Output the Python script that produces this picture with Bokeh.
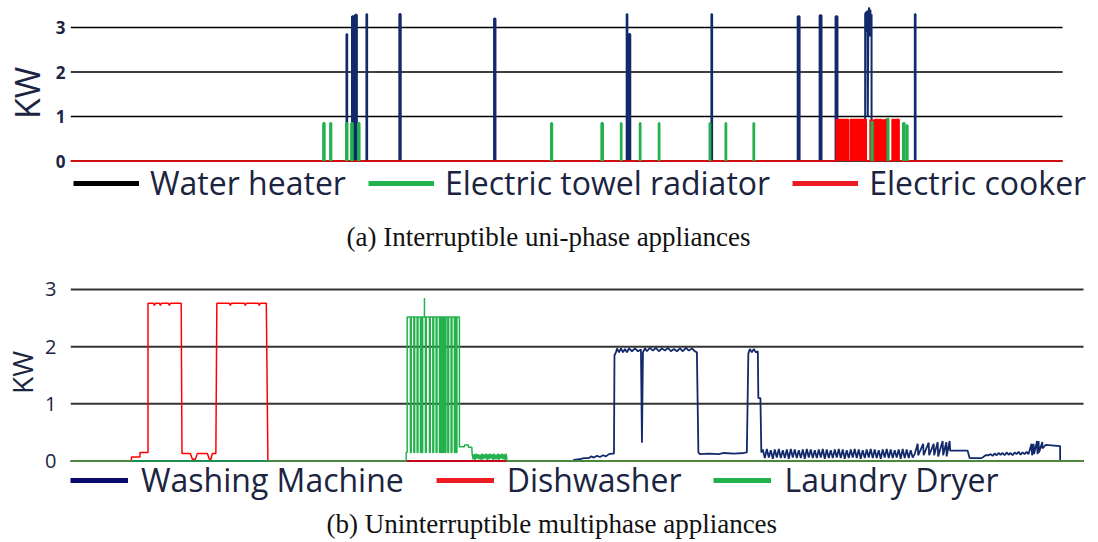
from math import pi
from bokeh.plotting import figure
from bokeh.models import Range1d, Legend, LegendItem, Label, FixedTicker
from bokeh.layouts import column, row
from bokeh.embed import file_html
from bokeh.resources import INLINE

NAN = float("nan")

# ---------------- data: panel (a), time in sample steps ----------------
A_T_START, A_T_END = 0, 995
y_ticks = [0, 1, 2, 3]

# water heater pulses (start, end, kW)
wh_start = [277, 282.5, 285.5, 297, 330, 425, 558, 560, 643, 729.5, 751.5, 767.5, 847]
wh_end = [277.3, 284, 287, 297.3, 331, 426, 558.3, 561.2, 643.3, 731, 753, 769, 847.3]
wh_kw = [2.85, 3.25, 3.28, 3.3, 3.3, 3.2, 3.3, 2.85, 3.3, 3.25, 3.27, 3.25, 3.3]
# burst of the water heater near the evening
wh_burst_t = [797, 797, 798, 798.6, 799.2, 799.6, 800.2, 801, 801.6, 802.2, 802.8, 803.4, 803.4]
wh_burst_kw = [0, 3.3, 3.35, 2.9, 3.38, 1.0, 3.3, 3.45, 2.8, 3.4, 2.9, 3.3, 0]

# electric towel radiator pulses
tr_start = [253.5, 260.5, 276.5, 281.5, 288.5, 482, 532.5, 552, 571, 590, 641, 657, 685, 803.5, 819.5, 835, 838.5]
tr_end = [254.8, 261.5, 277.5, 283, 289.8, 483, 534, 552.6, 571.6, 590.6, 641.6, 657.6, 685.6, 804.5, 820.3, 836.5, 839.5]
tr_kw = [0.85, 0.85, 0.85, 0.85, 0.85, 0.85, 0.85, 0.85, 0.85, 0.85, 0.85, 0.85, 0.85, 0.88, 0.95, 0.85, 0.8]

# electric cooker pulses
ck_start = [768, 782, 802, 806.5, 811, 814, 817, 824, 827]
ck_end = [780, 798, 805, 810, 813, 816, 820, 826, 831]
ck_kw = [0.93, 0.93, 0.92, 0.93, 0.93, 0.92, 0.93, 0.93, 0.93]

# ---------------- data: panel (b) ----------------
B_T_START, B_T_END = 1, 1015

wm_pre = [(1, 0), (504, 0), (505, 0.02), (510, 0.03), (515, 0.05), (520, 0.05), (522, 0.08), (525, 0.06),
          (528, 0.09), (531, 0.07), (534, 0.1), (537, 0.08), (540, 0.12), (543, 0.13), (545, 0.13),
          (545.5, 1.85), (547, 1.9), (548, 1.97), (550, 1.9), (552, 1.97), (554, 1.9), (556, 1.96),
          (558, 1.9), (560, 1.97), (563, 1.92), (566, 1.97), (569, 1.92), (572, 1.95), (573, 0.32),
          (574, 1.9), (576, 1.97), (578, 1.92), (581, 1.98), (584, 1.93), (587, 1.98), (590, 1.92),
          (593, 1.97), (596, 1.93), (599, 1.98), (602, 1.92), (605, 1.96), (608, 1.92), (611, 1.97),
          (614, 1.92), (617, 1.98), (620, 1.93), (623, 1.97), (626, 1.92), (628, 1.9), (629.5, 0.15),
          (631, 0.12), (640, 0.13), (650, 0.12), (655, 0.14), (665, 0.13), (675, 0.14), (678, 0.15),
          (679.5, 1.88), (681, 1.96), (683, 1.9), (685, 1.96), (687, 1.9), (689, 1.92), (689.5, 1.1),
          (691.6, 1.1), (692.5, 0.15)]
wm_fuzz_t = [694, 696, 698, 700, 702, 704, 706, 708, 710, 712, 714, 716, 718, 720, 722, 724, 726, 728, 730, 732,
             734, 736, 738, 740, 742, 744, 746, 748, 750, 752, 754, 756, 758, 760, 762, 764, 766, 768, 770, 772,
             774, 776, 778, 780, 782, 784, 786, 788, 790, 792, 794, 796, 798, 800, 802, 804, 806, 808, 810, 812,
             814, 816, 818, 820, 822, 824, 826, 828, 830, 832, 834, 836, 838, 840, 842, 844]
wm_fuzz_kw = [0.2, 0.05, 0.21, 0.06, 0.19, 0.04, 0.2, 0.06, 0.21, 0.05, 0.19, 0.05, 0.2, 0.04, 0.21, 0.06, 0.2, 0.05, 0.19, 0.05,
              0.2, 0.04, 0.21, 0.06, 0.2, 0.05, 0.19, 0.05, 0.2, 0.06, 0.21, 0.04, 0.2, 0.05, 0.19, 0.05, 0.2, 0.06, 0.21, 0.05,
              0.2, 0.04, 0.19, 0.05, 0.2, 0.06, 0.21, 0.05, 0.2, 0.04, 0.19, 0.05, 0.2, 0.06, 0.21, 0.05, 0.2, 0.05, 0.19, 0.04,
              0.2, 0.06, 0.21, 0.05, 0.2, 0.05, 0.19, 0.06, 0.2, 0.04, 0.21, 0.05, 0.2, 0.05, 0.19, 0.06]
wm_post = [(846, 0.12), (849, 0.3), (849.5, 0.1), (854.5, 0.3), (855, 0.1), (860, 0.32), (860.5, 0.1),
           (865, 0.3), (865.5, 0.1), (869, 0.33), (869.5, 0.08), (874, 0.35), (874.5, 0.1), (877.7, 0.33),
           (878, 0.08), (881, 0.35), (881.5, 0.18), (883, 0.18), (899, 0.18), (901, 0.05), (913, 0.05),
           (917, 0.1), (920, 0.1), (922, 0.12), (924, 0.09), (926, 0.13), (928, 0.1), (930, 0.14), (932, 0.11),
           (934, 0.14), (936, 0.1), (938, 0.15), (940, 0.11), (942, 0.14), (944, 0.1), (946, 0.15), (948, 0.12),
           (950, 0.16), (952, 0.11), (954, 0.15), (956, 0.12), (958, 0.16), (960, 0.12), (963, 0.3),
           (963.5, 0.1), (965, 0.3), (965.5, 0.12), (968.5, 0.35), (969, 0.12), (970, 0.35), (970.5, 0.15),
           (973.7, 0.33), (974, 0.22), (977, 0.28), (991.6, 0.26), (991.6, 0), (1015, 0)]

dw_points = [(1, 0), (62, 0), (62, 0.07), (70.5, 0.07), (70.5, 0.15), (78.6, 0.15), (78.6, 2.76), (84, 2.76),
             (85, 2.72), (86, 2.76), (90, 2.76), (91, 2.72), (92, 2.76), (99, 2.76), (100, 2.72), (101, 2.76),
             (111.8, 2.76), (112.6, 0.13), (121, 0.13), (123, 0.03), (126, 0.03), (128, 0.13), (138, 0.13),
             (140, 0.03), (141.5, 0.03), (143, 0.13), (146.5, 0.13), (147.5, 2.76), (160, 2.76), (161, 2.72),
             (162, 2.76), (175, 2.76), (176, 2.72), (177, 2.76), (189, 2.76), (190, 2.72), (191, 2.76),
             (197, 2.76), (198.6, 0), (1015, 0)]

ld_pre = [(1, 0), (337, 0), (337, 0.15), (338, 0.15)]
ld_on_start, ld_on_end, ld_top, ld_low = 338, 390.3, 2.52, 0.15
ld_dips = [341.3, 344.7, 348, 351.3, 352.7, 356.3, 360.3, 363.7, 367, 370.3, 372, 373.7, 376, 378.7, 382, 385.3, 387]
ld_spike_t, ld_spike_kw = 355.3, 2.85
ld_mid = [(390.3, 0.25), (395.3, 0.25), (395.3, 0.28), (399.3, 0.28), (399.3, 0.24), (402.7, 0.24)]
ld_fuzz_t = [403, 404, 405, 406, 407, 408, 409, 410, 411, 412, 413, 414, 415, 416, 417, 418, 419, 420,
             421, 422, 423, 424, 425, 426, 427, 428, 429, 430, 431, 432, 433, 434, 435, 436, 437, 438]
ld_fuzz_kw = [0.13, 0.03, 0.12, 0.02, 0.13, 0.04, 0.12, 0.03, 0.11, 0.02, 0.13, 0.03, 0.12, 0.04, 0.13, 0.02, 0.12, 0.03,
              0.13, 0.04, 0.12, 0.02, 0.13, 0.03, 0.11, 0.03, 0.13, 0.02, 0.12, 0.04, 0.13, 0.03, 0.12, 0.02, 0.13, 0.0]
ld_post = [(438.7, 0), (1015, 0)]

# ---------------- colours / fonts ----------------
NAVY = "#12296a"
GREEN = "#22b14c"
RED = "#ff0000"
TXT = "#1b2440"
FONT = "Open Sans"


def pulses_xs_ys(starts, ends, levels):
    xs, ys = [], []
    for s, e, l in zip(starts, ends, levels):
        xs.append([s, s, e, e])
        ys.append([0, l, l, 0])
    return xs, ys


def pulses_steps(starts, ends, levels, t0, t1):
    xs, ys = [t0], [0]
    for s, e, l in zip(starts, ends, levels):
        xs += [s, s, e, e]
        ys += [0, l, l, 0]
    xs.append(t1)
    ys.append(0)
    return xs, ys


def style(p, tick_size, tick_bold, standoff, t0, t1, grid_color, grid_w):
    p.yaxis.ticker = FixedTicker(ticks=y_ticks)
    p.yaxis.axis_line_color = None
    p.yaxis.major_tick_line_color = None
    p.yaxis.minor_tick_line_color = None
    p.yaxis.major_tick_in = 0
    p.yaxis.major_tick_out = 0
    p.yaxis.minor_tick_in = 0
    p.yaxis.minor_tick_out = 0
    p.yaxis.major_label_text_font = FONT
    p.yaxis.major_label_text_font_size = tick_size
    p.yaxis.major_label_text_font_style = "bold" if tick_bold else "normal"
    p.yaxis.major_label_text_color = TXT
    p.yaxis.major_label_standoff = standoff
    p.ygrid.visible = False
    p.xgrid.visible = False
    p.outline_line_color = None
    p.background_fill_color = "white"
    p.border_fill_color = "white"
    # horizontal grid lines at the y ticks, spanning the time axis
    p.segment(x0=[t0] * len(y_ticks), x1=[t1] * len(y_ticks), y0=y_ticks, y1=y_ticks,
              line_color=grid_color, line_width=grid_w)


def add_legend(p, items, glyph_w, standoff, spacing, loc):
    lg = Legend(items=items, orientation="horizontal", location=loc,
                label_text_font=FONT, label_text_font_size="32px", label_text_color=TXT,
                glyph_width=glyph_w, glyph_height=20, label_standoff=standoff, spacing=spacing,
                padding=2, margin=0, border_line_color=None, background_fill_alpha=0)
    p.add_layout(lg)


def kw_figure(w, h, x, y, size):
    f = figure(width=w, height=h, x_range=Range1d(0, 1), y_range=Range1d(0, 1),
               x_axis_location=None, y_axis_location=None, toolbar_location=None, output_backend="svg",
               min_border_left=0, min_border_right=0, min_border_top=0, min_border_bottom=0)
    f.xgrid.visible = False
    f.ygrid.visible = False
    f.outline_line_color = None
    f.add_layout(Label(x=x, y=y, x_units="screen", y_units="screen", text="KW", angle=pi / 2,
                       text_align="center", text_baseline="middle", text_font=FONT,
                       text_font_size=size, text_color=TXT))
    return f


def add_caption(p, x, y, text):
    p.add_layout(Label(x=x, y=y, x_units="screen", y_units="screen", text=text,
                       text_align="left", text_baseline="alphabetic", text_font="Liberation Serif",
                       text_font_size="27px", text_color="#111111"))


# ---------------- panel (a) ----------------
kwa = kw_figure(52, 252, 26.5, 159.5, "34px")
pa = figure(width=1046, height=252, x_range=Range1d(0, 1031), y_range=Range1d(-2.056, 3.607),
            x_axis_location=None, toolbar_location=None, output_backend="svg",
            min_border_left=15, min_border_right=0, min_border_top=0, min_border_bottom=0)
style(pa, "17px", True, 5, A_T_START, A_T_END, "#000000", 1.3)

wx, wy = pulses_xs_ys(wh_start, wh_end, wh_kw)
pa.multi_line(xs=wx, ys=wy, line_color=NAVY, line_width=2.4)
pa.line(wh_burst_t, wh_burst_kw, line_color=NAVY, line_width=2)

cx, cy = pulses_steps(ck_start, ck_end, ck_kw, A_T_START, A_T_END)
pa.varea(x=cx, y1=[0] * len(cy), y2=cy, fill_color=RED)
pa.line(cx, cy, line_color=RED, line_width=1.6)

gx, gy = pulses_xs_ys(tr_start, tr_end, tr_kw)
pa.multi_line(xs=gx, ys=gy, line_color=GREEN, line_width=2.2)

la_wh = pa.line([NAN, NAN], [NAN, NAN], line_color="#000000", line_width=5)
la_tr = pa.line([NAN, NAN], [NAN, NAN], line_color=GREEN, line_width=5)
la_ck = pa.line([NAN, NAN], [NAN, NAN], line_color="#ec1c24", line_width=5)
add_legend(pa, [LegendItem(label="Water heater", renderers=[la_wh]),
                LegendItem(label="Electric towel radiator", renderers=[la_tr]),
                LegendItem(label="Electric cooker", renderers=[la_ck])], 66, 11, 22, (3, 48))
add_caption(pa, 276, 16, "(a) Interruptible uni-phase appliances")

# ---------------- panel (b) ----------------
kwb = kw_figure(42, 290, 21, 170, "28px")
pb = figure(width=1056, height=290, x_range=Range1d(1, 1030), y_range=Range1d(-1.426, 3.647),
            x_axis_location=None, toolbar_location=None, output_backend="svg",
            min_border_left=27, min_border_right=0, min_border_top=0, min_border_bottom=0)
style(pb, "20px", False, 14, B_T_START, B_T_END, "#333333", 2)

wm_t = [t for t, _ in wm_pre] + wm_fuzz_t + [t for t, _ in wm_post]
wm_kw = [v for _, v in wm_pre] + wm_fuzz_kw + [v for _, v in wm_post]
pb.line(wm_t, wm_kw, line_color=NAVY, line_width=1.8)

pb.line([t for t, _ in dw_points], [v for _, v in dw_points], line_color=RED, line_width=1.5)

ld_t = [t for t, _ in ld_pre] + [ld_on_start]
ld_kw = [v for _, v in ld_pre] + [ld_top]
for d in ld_dips:
    ld_t += [d, d, d + 0.8, d + 0.8]
    ld_kw += [ld_top, ld_low, ld_low, ld_top]
ld_t += [ld_on_end] + [t for t, _ in ld_mid] + ld_fuzz_t + [t for t, _ in ld_post]
ld_kw += [ld_top] + [v for _, v in ld_mid] + ld_fuzz_kw + [v for _, v in ld_post]
pb.line(ld_t, ld_kw, line_color=GREEN, line_width=1.5)
pb.line([ld_spike_t, ld_spike_t], [ld_top, ld_spike_kw], line_color=GREEN, line_width=1.5)

lb_wm = pb.line([NAN, NAN], [NAN, NAN], line_color="#0b0b6e", line_width=5)
lb_dw = pb.line([NAN, NAN], [NAN, NAN], line_color="#ec1c24", line_width=5)
lb_ld = pb.line([NAN, NAN], [NAN, NAN], line_color=GREEN, line_width=5)
add_legend(pb, [LegendItem(label="Washing Machine", renderers=[lb_wm]),
                LegendItem(label="Dishwasher", renderers=[lb_dw]),
                LegendItem(label="Laundry Dryer", renderers=[lb_ld])], 58, 13, 32, (0, 41))
add_caption(pb, 256, 19, "(b) Uninterruptible multiphase appliances")

layout = column(row(kwa, pa, spacing=0), row(kwb, pb, spacing=0), spacing=0)
open("out.html", "w").write(file_html(layout, INLINE))
